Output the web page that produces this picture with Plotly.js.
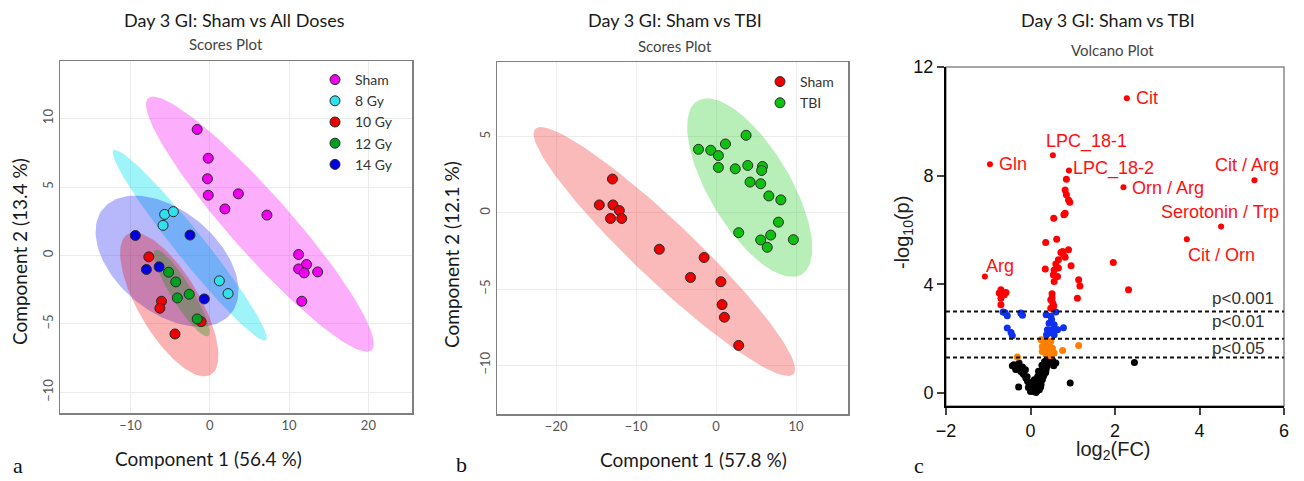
<!DOCTYPE html>
<html><head><meta charset="utf-8">
<script src="https://cdn.plot.ly/plotly-3.0.1.min.js"></script>
<style>html,body{margin:0;padding:0;background:#fff}#plot{width:1304px;height:481px}</style>
</head><body><div id="plot"></div>
<script>
// ---------- Panel a: Sham vs All Doses (PCA scores) ----------
const aShamX = [-1.6, -0.2, -0.3, -0.2, 3.6, 1.9, 7.2, 11.2, 12.2, 11.2, 11.9, 13.6, 11.6];
const aShamY = [9.2, 7.1, 5.6, 4.4, 4.5, 3.4, 2.95, 0.07, -0.66, -0.98, -1.27, -1.2, -3.34];
const a8X = [-5.7, -4.6, -5.9, 1.2, 2.3];
const a8Y = [3.0, 3.2, 2.2, -1.85, -2.78];
const a10X = [-7.7, -6.1, -6.3, -1.1, -4.4];
const a10Y = [-0.1, -3.34, -3.85, -4.83, -5.73];
const a12X = [-5.2, -4.3, -4.1, -2.6, -1.6];
const a12Y = [-1.22, -1.93, -3.1, -2.83, -4.63];
const a14X = [-9.4, -2.5, -8.0, -6.4, -0.7];
const a14Y = [1.46, 1.49, -1.02, -0.83, -3.17];
const aGroups = ["Sham", "8 Gy", "10 Gy", "12 Gy", "14 Gy"];

// ---------- Panel b: Sham vs TBI (PCA scores) ----------
const bShamX = [-12.96, -14.6, -12.9, -12.1, -13.2, -11.8, -7.1, -1.5, -3.2, 0.6, 0.75, 1.04, 2.83];
const bShamY = [2.22, 0.52, 0.52, 0.15, -0.37, -0.37, -2.39, -2.93, -4.24, -4.52, -6.02, -6.85, -8.7];
const bTbiX = [-2.2, -0.67, 1.17, 3.75, 0.29, 0.29, 2.4, 3.96, 5.8, 5.7, 4.25, 5.58, 6.6, 8.1, 7.8, 2.83, 5.58, 6.83, 6.4, 9.67];
const bTbiY = [4.17, 4.11, 4.52, 5.09, 3.76, 2.98, 2.89, 3.11, 3.04, 2.78, 2.02, 1.91, 1.11, 0.85, -0.61, -1.30, -1.78, -1.46, -2.26, -1.76];
const bGroups = ["Sham", "TBI"];

// ---------- Panel c: Volcano plot ----------
const labelNames = ["Cit", "LPC_18-1", "Gln", "LPC_18-2", "Orn / Arg", "Cit / Arg", "Serotonin / Trp", "Cit / Orn", "Arg"];
const labelFC = [2.28, 0.53, -0.96, 0.91, 2.20, 5.30, 4.51, 3.70, -1.08];
const labelP = [10.85, 8.75, 8.42, 8.19, 7.57, 7.83, 6.13, 5.66, 4.29];
const redFC = [0.85, 0.82, 0.85, 0.90, 0.93, 0.82, 0.79, 0.55, 0.36, 0.62, 0.76, 0.90, 0.82, 0.66, 0.96, 0.35, 0.56, 0.66, 0.54, 0.64, 0.56, 1.14, 1.17, 1.11, 0.51, 0.51, 0.53, 0.55, 1.96, 2.32, -0.74, -0.62, -0.70, -0.70, -0.58, -0.70, 0.48, 0.48, 0.78, 0.72, 0.60];
const redP = [7.87, 7.47, 7.30, 7.10, 7.02, 6.62, 6.56, 6.43, 5.54, 5.66, 5.21, 5.27, 5.00, 4.90, 4.68, 4.56, 4.53, 4.60, 4.35, 4.29, 4.10, 4.17, 3.94, 3.49, 3.65, 3.50, 3.30, 3.20, 4.80, 3.80, 3.68, 3.62, 3.49, 3.25, 3.70, 3.80, 3.43, 3.12, 5.08, 5.17, 4.75];
const blueFC = [-0.65, -0.55, -0.23, -0.19, -0.55, -0.46, -0.43, 0.37, 0.48, 0.60, 0.44, 0.56, 0.40, 0.52, 0.64, 0.44, 0.56, 0.38, 0.78, -0.60, 0.50];
const blueP = [2.98, 2.84, 2.94, 2.86, 2.39, 2.23, 2.11, 2.88, 2.82, 2.98, 2.57, 2.51, 2.33, 2.33, 2.33, 2.21, 2.14, 2.14, 2.40, 2.95, 2.70];
const orangeFC = [0.25, 0.33, 0.40, 0.48, 0.28, 0.40, 0.52, 0.28, 0.44, 0.56, 0.76, 1.14, 0.37, 0.48, -0.31, 0.36, 0.45, 0.33];
const orangeP = [1.96, 1.90, 1.84, 1.90, 1.71, 1.65, 1.65, 1.53, 1.53, 1.47, 1.56, 1.75, 1.41, 1.37, 1.32, 1.98, 1.75, 1.60];
const blackFC = [-0.39, -0.27, -0.19, -0.35, -0.23, -0.15, -0.28, -0.11, -0.07, -0.03, 0.01, 0.05, 0.13, 0.21, 0.25, 0.28, 0.32, 0.37, 0.40, 0.44, 0.52, 0.60, 0.94, 0.13, 0.09, 0.17, 2.46, -0.43, -0.31, -0.12, -0.18, 0.07, 0.10, 0.16, 0.03, 0.08, 0.18, 0.22, 0.26, 0.30, 0.34, 0.38, 0.42, 0.48, 0.36, 0.30, 0.24, 0.20, 0.15, 0.04, 0.00, -0.05, 0.12, 0.47, 0.55, -0.02, -0.08, 0.27, 0.33, 0.19];
const blackP = [1.04, 1.10, 0.96, 0.86, 0.79, 0.67, 0.22, 0.55, 0.43, 0.31, 0.18, 0.06, 0.02, 0.12, 0.31, 0.49, 0.67, 0.86, 1.00, 1.16, 1.20, 1.10, 0.37, 0.24, 0.49, 0.61, 1.12, 1.00, 0.98, 0.85, 0.72, 0.12, 0.05, 0.08, 0.10, 0.30, 0.40, 0.55, 0.74, 0.90, 1.05, 1.20, 1.28, 1.10, 0.75, 0.60, 0.22, 0.30, 0.15, 0.25, 0.05, 0.20, 0.35, 1.25, 1.00, 0.38, 0.60, 1.02, 1.15, 0.80];
const pThresh = [3, 2, 1.301];
const pLabels = ["p<0.001", "p<0.01", "p<0.05"];

// ---------- helpers ----------
const W = 1304, H = 481;
const px = X => X / W, py = Y => 1 - Y / H;
function ellipse(xs, ys) {
  const n = xs.length;
  const mx = xs.reduce((s, v) => s + v, 0) / n, my = ys.reduce((s, v) => s + v, 0) / n;
  let sxx = 0, syy = 0, sxy = 0;
  for (let i = 0; i < n; i++) { const dx = xs[i] - mx, dy = ys[i] - my; sxx += dx * dx; syy += dy * dy; sxy += dx * dy; }
  sxx /= n - 1; syy /= n - 1; sxy /= n - 1;
  const tr = (sxx + syy) / 2, d = Math.sqrt(((sxx - syy) / 2) ** 2 + sxy * sxy);
  const l1 = tr + d, l2 = Math.max(tr - d, 1e-9), th = 0.5 * Math.atan2(2 * sxy, sxx - syy);
  const r = Math.sqrt(5.991464547);
  const ex = [], ey = [];
  for (let k = 0; k <= 120; k++) {
    const t = 2 * Math.PI * k / 120, u = r * Math.sqrt(l1) * Math.cos(t), v = r * Math.sqrt(l2) * Math.sin(t);
    ex.push(mx + u * Math.cos(th) - v * Math.sin(th)); ey.push(my + u * Math.sin(th) + v * Math.cos(th));
  }
  return {ex, ey};
}
function ellTrace(xs, ys, fill, xa, ya) {
  const e = ellipse(xs, ys);
  return {x: e.ex, y: e.ey, xaxis: xa, yaxis: ya, mode: 'lines', fill: 'toself', fillcolor: fill,
          line: {width: 0}, hoverinfo: 'skip', showlegend: false, type: 'scatter'};
}
function ptTrace(xs, ys, color, name, xa, ya, leg) {
  return {x: xs, y: ys, xaxis: xa, yaxis: ya, mode: 'markers', type: 'scatter', name: name, legend: leg,
          marker: {size: 10, color: color, line: {color: '#2a2a2a', width: 1}}};
}
function volTrace(xs, ys, color, size) {
  return {x: xs, y: ys, xaxis: 'x3', yaxis: 'y3', mode: 'markers', type: 'scatter', showlegend: false,
          marker: {size: size, color: color, line: {width: 0}}};
}

const aCol = ['#f000f0', '#30e0ea', '#ee0000', '#00a020', '#0000e0'];
const aFill = ['rgba(245,0,245,0.32)', 'rgba(0,225,240,0.38)', 'rgba(240,0,0,0.30)', 'rgba(0,150,0,0.30)', 'rgba(30,30,245,0.32)'];
const aX = [aShamX, a8X, a10X, a12X, a14X], aY = [aShamY, a8Y, a10Y, a12Y, a14Y];

const traces = [];
[0, 1, 4, 2, 3].forEach(i => traces.push(ellTrace(aX[i], aY[i], aFill[i], 'x', 'y')));
aGroups.forEach((g, i) => traces.push(ptTrace(aX[i], aY[i], aCol[i], g, 'x', 'y', 'legend')));

traces.push(ellTrace(bShamX, bShamY, 'rgba(240,40,40,0.32)', 'x2', 'y2'));
traces.push(ellTrace(bTbiX, bTbiY, 'rgba(20,200,20,0.30)', 'x2', 'y2'));
traces.push(ptTrace(bShamX, bShamY, '#ee0000', bGroups[0], 'x2', 'y2', 'legend2'));
traces.push(ptTrace(bTbiX, bTbiY, '#10c010', bGroups[1], 'x2', 'y2', 'legend2'));

traces.push(volTrace(blackFC, blackP, '#000000', 7));
traces.push(volTrace(orangeFC, orangeP, '#ff8000', 7));
traces.push(volTrace(blueFC, blueP, '#1030f0', 7));
traces.push(volTrace(redFC, redP, '#ff0000', 7));
traces.push(volTrace(labelFC, labelP, '#ff0000', 6));

const pcaAxis = (range, dom, anchor, dtick) => ({
  domain: dom, range: range, anchor: anchor, dtick: dtick, showgrid: true, gridcolor: '#ececec', gridwidth: 1,
  zeroline: false, showline: true, linecolor: '#808080', linewidth: 1.5, mirror: true, ticks: '',
  tickfont: {family: 'Lato, sans-serif', size: 13, color: '#555'}
});
const xa = pcaAxis([-18.9, 25.5], [px(60), px(412)], 'y', 10);
const ya = pcaAxis([-11.5, 14.2], [py(413), py(61)], 'x', 5); ya.tickangle = -90;
const xb = pcaAxis([-27.4, 16.5], [px(497), px(848)], 'y2', 10);
const yb = pcaAxis([-13.2, 9.9], [py(414), py(62)], 'x2', 5); yb.tickangle = -90;
const volFont = {family: 'Liberation Sans, Arial, sans-serif', size: 18, color: '#111'};
const xc = {domain: [px(946), px(1284)], range: [-2, 6], anchor: 'y3', tickvals: [-2, 0, 2, 4, 6], showgrid: false, zeroline: false,
  showline: true, linecolor: '#000', linewidth: 2, ticks: 'outside', ticklen: 7, tickwidth: 2, tickfont: volFont};
const yc = {domain: [py(406), py(67)], range: [-0.48, 12], anchor: 'x3', tickvals: [0, 4, 8, 12], showgrid: false, zeroline: false,
  showline: true, linecolor: '#000', linewidth: 2, ticks: 'outside', ticklen: 7, tickwidth: 2, tickfont: volFont};

const titleFont = (s, c) => ({family: 'Lato, sans-serif', size: s, color: c || '#1a1a1a'});
const ann = (text, X, Y, font, extra) => Object.assign({text: text, x: px(X), y: py(Y), xref: 'paper', yref: 'paper',
  showarrow: false, font: font, xanchor: 'center', yanchor: 'middle'}, extra || {});
const annotations = [
  ann('Day 3 GI: Sham vs All Doses', 235, 20, titleFont(18)),
  ann('Scores Plot', 226, 44, titleFont(15, '#444')),
  ann('Day 3 GI: Sham vs TBI', 675, 20, titleFont(18)),
  ann('Scores Plot', 675, 46, titleFont(15, '#444')),
  ann('Day 3 GI: Sham vs TBI', 1108, 20, titleFont(18)),
  ann('Volcano Plot', 1112, 50, titleFont(15, '#444')),
  ann('Component 1 (56.4 %)', 208, 458, titleFont(19)),
  ann('Component 2 (13.4 %)', 19, 252, titleFont(19), {textangle: -90}),
  ann('Component 1 (57.8 %)', 693, 459, titleFont(19)),
  ann('Component 2 (12.1 %)', 451, 255, titleFont(19), {textangle: -90}),
  ann('log<sub>2</sub>(FC)', 1113, 450, {family: 'Liberation Sans, Arial, sans-serif', size: 20, color: '#222'}),
  ann('-log<sub>10</sub>(p)', 903, 233, {family: 'Liberation Sans, Arial, sans-serif', size: 20, color: '#222'}, {textangle: -90}),
  ann('a', 18, 465, {family: 'Liberation Serif, serif', size: 22, color: '#111'}),
  ann('b', 461, 464, {family: 'Liberation Serif, serif', size: 22, color: '#111'}),
  ann('c', 919, 465, {family: 'Liberation Serif, serif', size: 22, color: '#111'})
];
// volcano labels (data coordinates)
const redFont = {family: 'Liberation Sans, Arial, sans-serif', size: 18, color: '#ff1010'};
const labOff = [[2.46, 10.85, 'left'], [1.33, 9.25, 'center'], [-0.79, 8.42, 'left'], [0.96, 8.25, 'left'], [2.36, 7.56, 'left'],
  [5.92, 8.39, 'right'], [5.92, 6.68, 'right'], [3.68, 5.08, 'left'], [-1.11, 4.69, 'left']];
labelNames.forEach((nm, i) => annotations.push({text: nm, x: labOff[i][0], y: labOff[i][1], xref: 'x3', yref: 'y3',
  showarrow: false, font: redFont, xanchor: labOff[i][2], yanchor: 'middle'}));
const pLabY = [3.49, 2.62, 1.62];
pLabels.forEach((t, i) => annotations.push({text: t, x: 4.24, y: pLabY[i], xref: 'x3', yref: 'y3', showarrow: false,
  font: {family: 'Liberation Sans, Arial, sans-serif', size: 17, color: '#333'}, xanchor: 'left', yanchor: 'middle'}));

const shapes = pThresh.map(v => ({type: 'line', xref: 'x3', yref: 'y3', x0: -2, x1: 6, y0: v, y1: v,
  line: {color: '#111', width: 2, dash: '4px,3px'}}));
shapes.push({type: 'rect', xref: 'x3 domain', yref: 'y3 domain', x0: 0, x1: 1, y0: 0, y1: 1, line: {color: '#8a8a8a', width: 1.5}, layer: 'below'});

const legFont = {family: 'Lato, sans-serif', size: 14, color: '#333'};
const layout = {
  width: W, height: H, margin: {l: 0, r: 0, t: 0, b: 0}, paper_bgcolor: '#fff', plot_bgcolor: '#fff',
  xaxis: xa, yaxis: ya, xaxis2: xb, yaxis2: yb, xaxis3: xc, yaxis3: yc,
  annotations: annotations, shapes: shapes,
  legend: {x: px(315), y: py(64), xanchor: 'left', yanchor: 'top', bgcolor: 'rgba(0,0,0,0)', font: legFont, tracegroupgap: 0},
  legend2: {x: px(760), y: py(66), xanchor: 'left', yanchor: 'top', bgcolor: 'rgba(0,0,0,0)', font: legFont, tracegroupgap: 0},
  showlegend: true, hovermode: false
};
Plotly.newPlot('plot', traces, layout, {staticPlot: true, displayModeBar: false});
</script></body></html>
